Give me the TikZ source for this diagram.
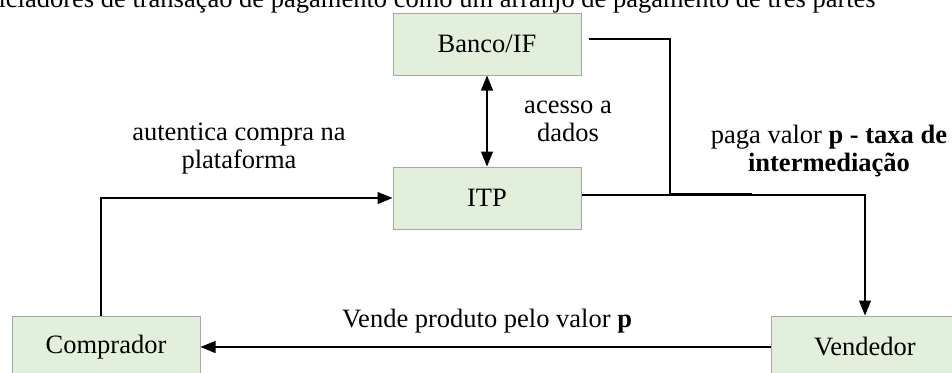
\documentclass[tikz,border=0pt]{standalone}
\usepackage{fontspec}
\setmainfont{Liberation Serif}
\usepackage{tikz}
\usetikzlibrary{arrows.meta}
\usetikzlibrary{calc}

\definecolor{boxgreen}{HTML}{E2EFDA}
\definecolor{boxline}{HTML}{A6A6A6}

\begin{document}
\begin{tikzpicture}[x=1pt, y=-1pt, node distance=154pt, >={Triangle[length=15pt,width=12pt]}, line width=1.2pt,
  every node/.style={font=\fontsize{26.5}{28}\selectfont, inner sep=0pt},
  box/.style={fill=boxgreen, draw=boxline, line width=1pt, minimum width=188pt, minimum height=62pt, text centered}]

\useasboundingbox (0,0) rectangle (952,372);

\node (titulo) [anchor=base west] at (-2,7) {iciadores de transação de pagamento como um arranjo de pagamento de três partes};

\node (banco) [box] at (487,44) {Banco/IF};
\node (itp) [box, below of=banco] {ITP};
\node (comprador) [box, below of=itp, xshift=-381pt, yshift=5pt] {Comprador};
\node (vendedor) [box, right of=comprador, xshift=605pt] {Vendedor};

\coordinate (juncao) at (670,194);
\coordinate (juncaofim) at (752,194);

\node (acesso) [align=center] at (568,121) {acesso a\\dados};
\node (autentica) [align=center] at (239,149) {autentica compra na\\plataforma};
\node (paga) [align=center] at (829,151) {paga valor \textbf{p - taxa de}\\\textbf{intermediação}};
\node (vende) at (487,321) {Vende produto pelo valor \textbf{p}};

\draw [<->] (banco) -- (itp);
\draw ([shift={(7pt,5pt)}]banco.east) -| (juncao) -- (juncaofim);
\draw [->] ([yshift=3pt]itp.east) -| (vendedor.north);
\draw [->] ([xshift=-5pt]comprador.north) |- (itp.west);
\draw [->] (vendedor.west) -- (comprador.east);

\end{tikzpicture}
\end{document}
